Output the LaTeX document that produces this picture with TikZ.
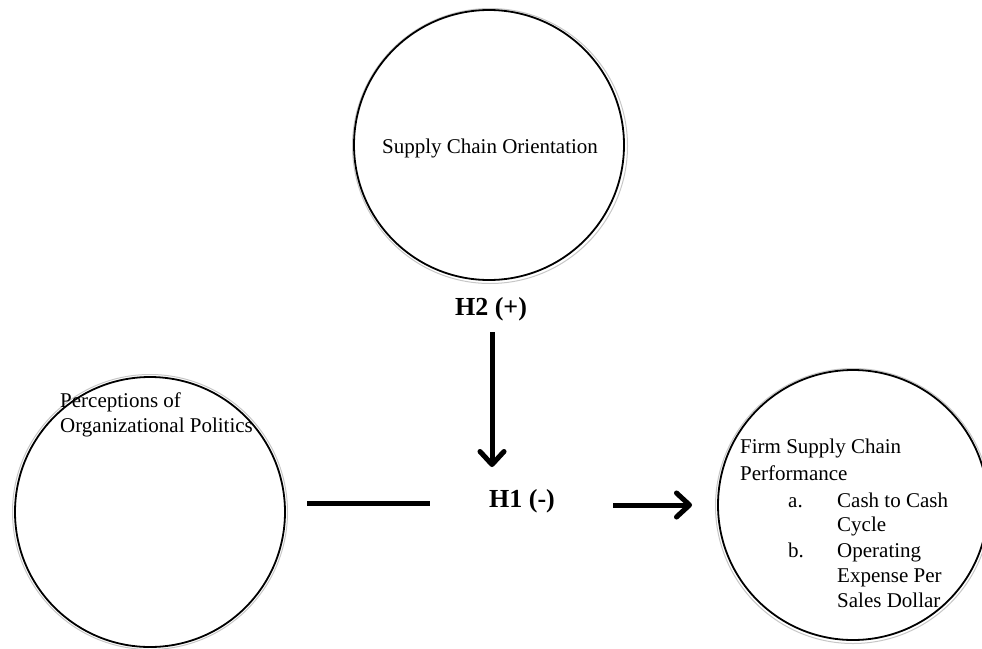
\documentclass[tikz,border=0pt]{standalone}
\usepackage{fontspec}
\setmainfont{Liberation Serif}
\usetikzlibrary{arrows.meta}
\begin{document}
\begin{tikzpicture}[x=1pt,y=-1pt,
  construct/.style={circle, draw, line width=1.8pt, minimum size=270pt, inner sep=0pt, outer sep=0pt},
  halo/.style={circle, draw=black!22, line width=1pt, minimum size=275pt, inner sep=0pt},
  txt/.style={font=\fontsize{21}{25}\selectfont, inner sep=0pt, anchor=base west},
  hyp/.style={font=\fontsize{26}{30}\selectfont\bfseries, inner sep=0pt, anchor=base},
  link/.style={line width=5pt},
  linkshadow/.style={line width=5pt, draw=black!28, shift={(1.6,1.6)}},
  arrowed/.style={-{Straight Barb[length=13pt,width=24pt,line join=round,line cap=round]}}
]
\useasboundingbox (0,0) rectangle (982,648);
\clip (0,0) rectangle (982,648);

% constructs
\node[halo] at (490,146) {};
\node[halo] at (150,512) {};
\node[halo] at (853,506) {};
\node[construct] (sco) at (489,145) {};
\node[construct] (pop) at (150,512) {};
\node[construct] (fscp) at (853,505) {};

% construct texts
\node[txt, anchor=base] (scotext) at (490,153) {Supply Chain Orientation};
\node[txt] (poptext1) at (60,407) {Perceptions of};
\node[txt] (poptext2) at (60,432) {Organizational Politics};
\node[txt] (perf1) at (740,453) {Firm Supply Chain};
\node[txt] (perf2) at (740,480) {Performance};
\node[txt] (itema) at (788,507) {a.};
\node[txt] (itemat1) at (837,507) {Cash to Cash};
\node[txt] (itemat2) at (837,531) {Cycle};
\node[txt] (itemb) at (788,557) {b.};
\node[txt] (itembt1) at (837,557) {Operating};
\node[txt] (itembt2) at (837,582) {Expense Per};
\node[txt] (itembt3) at (837,607) {Sales Dollar};

% hypothesis labels
\node[hyp] (h2) at (491,315) {H2 (+)};
\node[hyp] (h1) at (522,507) {H1 (-)};

% connector end points
\coordinate (modtop) at (492,332);
\coordinate (modend) at (492,467);
\coordinate (lstart) at (307,503);
\coordinate (lend) at (430,503);
\coordinate (rstart) at (613,505);
\coordinate (rend) at (692,505);

% shadows
\draw[linkshadow, arrowed] (modtop) -- (modend);
\draw[linkshadow] (lstart) -- (lend);
\draw[linkshadow, arrowed] (rstart) -- (rend);

% connectors
\draw[link, arrowed] (modtop) -- (modend);
\draw[link] (lstart) -- (lend);
\draw[link, arrowed] (rstart) -- (rend);
\end{tikzpicture}
\end{document}
